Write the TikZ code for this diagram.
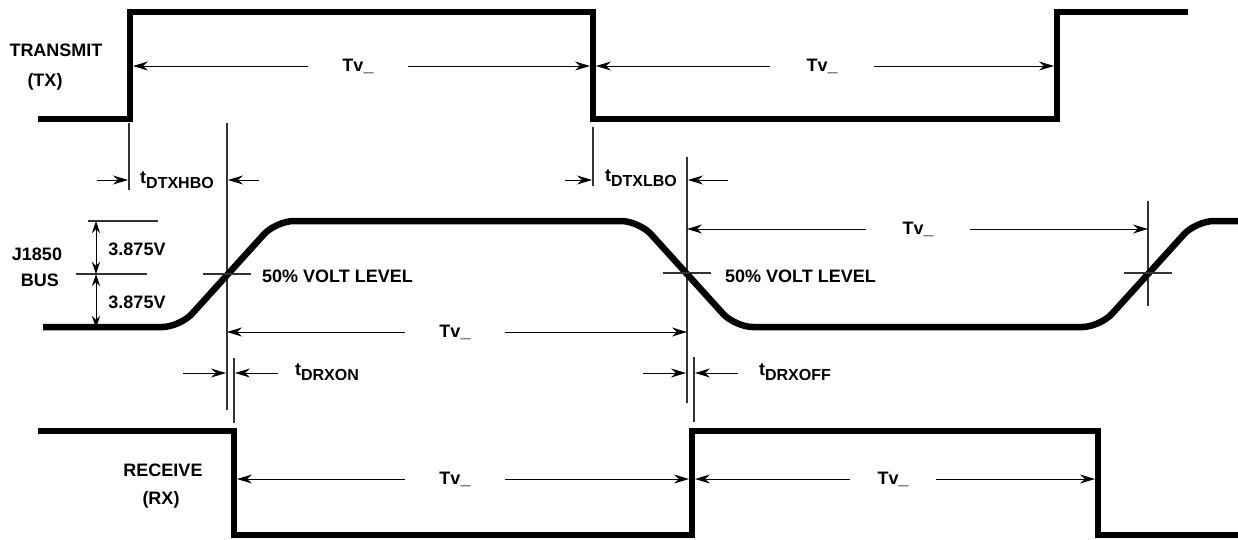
\documentclass[tikz,border=0pt]{standalone}
\usepackage{fontspec}
\setmainfont{Liberation Sans}
\usetikzlibrary{arrows.meta}
\newcommand\tdel[1]{t\raisebox{-5pt}{\fontsize{16}{16}\selectfont #1}}
\begin{document}
\begin{tikzpicture}[x=1pt,y=-1pt,
  sig/.style={line width=6.5pt, line join=miter},
  bus/.style={line width=6.5pt, rounded corners=18pt},
  ref/.style={line width=1.1pt, draw=black!80},
  dim/.style={line width=1pt, -{Stealth[length=15pt,width=9pt,inset=5pt]}},
  vdim/.style={line width=1pt, {Stealth[length=12pt,width=8pt]}-{Stealth[length=12pt,width=8pt]}},
  lbl/.style={font=\fontsize{18}{20}\selectfont\bfseries, inner sep=0pt},
  gapl/.style={lbl, minimum width=#1, minimum height=10pt}]
\useasboundingbox (0,0) rectangle (1238,539);

% ---------- TRANSMIT ----------
\coordinate (tx0) at (38,119);
\coordinate (tx1) at (130,119);
\coordinate (tx2) at (130,12);
\coordinate (tx3) at (593,12);
\coordinate (tx4) at (593,119);
\coordinate (tx5) at (1057,119);
\coordinate (tx6) at (1057,12);
\coordinate (tx7) at (1188,12);
\draw[sig] (tx0) -- (tx1) -- (tx2) -- (tx3) -- (tx4) -- (tx5) -- (tx6) -- (tx7);
\node[lbl] (txl1) at (56,50) {TRANSMIT};
\node[lbl] (txl2) at (45,82) {(TX)};

\coordinate (txa1) at (133,66);
\coordinate (txa2) at (590,66);
\coordinate (txa3) at (596,66);
\coordinate (txa4) at (1054,66);
\node[gapl=100pt] (tv1) at (358,66) {Tv\_};
\node[gapl=104pt] (tv2) at (822,66) {Tv\_};
\draw[dim] (tv1) -- (txa1);
\draw[dim] (tv1) -- (txa2);
\draw[dim] (tv2) -- (txa3);
\draw[dim] (tv2) -- (txa4);

% ---------- reference lines ----------
\draw[ref] (129,123) coordinate (v1a) -- (129,190) coordinate (v1b);
\draw[ref] (227,123) coordinate (v2a) -- (227,410) coordinate (v2b);
\draw[ref] (234,358) coordinate (v3a) -- (234,423) coordinate (v3b);
\draw[ref] (593,127) coordinate (v4a) -- (593,186) coordinate (v4b);
\draw[ref] (687,157) coordinate (v5a) -- (687,403) coordinate (v5b);
\draw[ref] (694,357) coordinate (v6a) -- (694,422) coordinate (v6b);
\draw[ref] (1148,201) coordinate (v7a) -- (1148,306) coordinate (v7b);

% tDTXHBO
\coordinate (h1) at (97,180);
\coordinate (h2) at (128,180);
\coordinate (h3) at (259,180);
\coordinate (h4) at (228,180);
\draw[dim] (h1) -- (h2);
\draw[dim] (h3) -- (h4);
\node[lbl] (thbo) at (177,180) {\tdel{DTXHBO}};

% tDTXLBO
\coordinate (l1) at (565,180);
\coordinate (l2) at (592,180);
\coordinate (l3) at (728,180);
\coordinate (l4) at (688,180);
\draw[dim] (l1) -- (l2);
\draw[dim] (l3) -- (l4);
\node[lbl] (tlbo) at (641,178) {\tdel{DTXLBO}};

% ---------- J1850 BUS ----------
\coordinate (b0) at (43,327);
\coordinate (b1) at (180,327);
\coordinate (b2) at (276,221);
\coordinate (b3) at (639,221);
\coordinate (b4) at (735,327);
\coordinate (b5) at (1100,327);
\coordinate (b6) at (1196,221);
\coordinate (b7) at (1238,221);
\draw[bus] (b0) -- (b1) -- (b2) -- (b3) -- (b4) -- (b5) -- (b6) -- (b7);
\node[lbl] (bl1) at (37,254) {J1850};
\node[lbl] (bl2) at (40,280) {BUS};

\draw[ref] (88,221) coordinate (r1a) -- (158,221) coordinate (r1b);
\draw[ref] (76,274) coordinate (r2a) -- (147,274) coordinate (r2b);
\coordinate (va) at (96,221);
\coordinate (vb) at (96,274);
\coordinate (vc) at (96,328);
\draw[vdim] (va) -- (vb);
\draw[vdim] (vb) -- (vc);
\node[lbl] (volt1) at (137,249) {3.875V};
\node[lbl] (volt2) at (137,302) {3.875V};

\draw[ref] (203,274) coordinate (c1a) -- (251,274) coordinate (c1b);
\draw[ref] (663,273) coordinate (c2a) -- (711,273) coordinate (c2b);
\draw[ref] (1124,273) coordinate (c3a) -- (1172,273) coordinate (c3b);
\node[lbl, anchor=west] (p1) at (262,276) {50\% VOLT LEVEL};
\node[lbl, anchor=west] (p2) at (725,276) {50\% VOLT LEVEL};

\coordinate (bt1) at (227,332);
\coordinate (bt2) at (687,332);
\coordinate (bt3) at (687,229);
\coordinate (bt4) at (1148,229);
\node[gapl=100pt] (tv3) at (455,332) {Tv\_};
\node[gapl=104pt] (tv4) at (918,229) {Tv\_};
\draw[dim] (tv3) -- (bt1);
\draw[dim] (tv3) -- (bt2);
\draw[dim] (tv4) -- (bt3);
\draw[dim] (tv4) -- (bt4);

% tDRXON
\coordinate (n1) at (183,373);
\coordinate (n2) at (226,373);
\coordinate (n3) at (278,373);
\coordinate (n4) at (235,373);
\draw[dim] (n1) -- (n2);
\draw[dim] (n3) -- (n4);
\node[lbl] (ton) at (327,372) {\tdel{DRXON}};

% tDRXOFF
\coordinate (f1) at (643,373);
\coordinate (f2) at (686,373);
\coordinate (f3) at (738,373);
\coordinate (f4) at (695,373);
\draw[dim] (f1) -- (f2);
\draw[dim] (f3) -- (f4);
\node[lbl] (toff) at (795,372) {\tdel{DRXOFF}};

% ---------- RECEIVE ----------
\coordinate (rx0) at (38,431);
\coordinate (rx1) at (234,431);
\coordinate (rx2) at (234,535);
\coordinate (rx3) at (692,535);
\coordinate (rx4) at (692,431);
\coordinate (rx5) at (1098,431);
\coordinate (rx6) at (1098,535);
\coordinate (rx7) at (1238,535);
\draw[sig] (rx0) -- (rx1) -- (rx2) -- (rx3) -- (rx4) -- (rx5) -- (rx6) -- (rx7);
\node[lbl] (rxl1) at (163,470) {RECEIVE};
\node[lbl] (rxl2) at (161,500) {(RX)};

\coordinate (ra1) at (237,479);
\coordinate (ra2) at (689,479);
\coordinate (ra3) at (695,479);
\coordinate (ra4) at (1095,479);
\node[gapl=100pt] (tv5) at (455,479) {Tv\_};
\node[gapl=86pt] (tv6) at (893,479) {Tv\_};
\draw[dim] (tv5) -- (ra1);
\draw[dim] (tv5) -- (ra2);
\draw[dim] (tv6) -- (ra3);
\draw[dim] (tv6) -- (ra4);
\end{tikzpicture}
\end{document}
